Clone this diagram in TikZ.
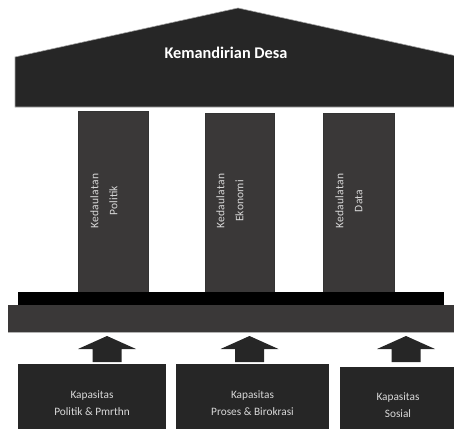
\documentclass[tikz,border=0pt]{standalone}
\usepackage{fontspec}
\setmainfont{Carlito}
\definecolor{roofc}{HTML}{262626}
\definecolor{pillc}{HTML}{3A3838}
\definecolor{txtc}{HTML}{D9D9D9}
\begin{document}
\begin{tikzpicture}[x=1pt,y=-1pt,
  roof/.style={fill=roofc,draw=gray!70,line width=0.6pt},
  pillar/.style={fill=pillc,draw=black!80,line width=0.5pt},
  pilltext/.style={text=txtc,font=\addfontfeatures{LetterSpace=2}\fontsize{11.5}{19}\selectfont,rotate=90,align=center},
  capbox/.style={fill=roofc,draw=none},
  captext/.style={text=txtc,font=\fontsize{11.3}{17}\selectfont,align=center},
  blockarrow/.style={fill=roofc,draw=none}]
\useasboundingbox (0,0) rectangle (454,428);
\begin{scope}
\clip (0,0) rectangle (454,428);
% roof
\draw[roof] (15,107) -- (15,57) -- (238,8) -- (461,57) -- (461,107) -- cycle;
\node[text=white,font=\fontsize{16.3}{18}\selectfont\bfseries] (title) at (226,53) {Kemandirian Desa};
% pillars
\draw[pillar] (78,111) rectangle (148,292);
\draw[pillar] (205,113) rectangle (274,292);
\draw[pillar] (323,113) rectangle (394,292);
\node[pilltext] (p1) at (104,201) {Kedaulatan\\Politik};
\node[pilltext] (p2) at (230,201) {Kedaulatan\\Ekonomi};
\node[pilltext] (p3) at (349,201) {Kedaulatan\\Data};
% black bar & base
\fill[black] (18,292) rectangle (444,305);
\fill[pillc] (8,305) rectangle (461,332);
\draw[gray!60,line width=0.5pt] (8,332) -- (461,332);
% arrows
\foreach \c/\n in {107/a1,249.5/a2,406/a3}{
  \fill[roofc] (\c-29,349) -- (\c,336) -- (\c+29,349) -- (\c+14.5,349) -- (\c+14.5,362) -- (\c-14.5,362) -- (\c-14.5,349) -- cycle;
}
% boxes
\fill[roofc] (18,364) rectangle (166,430);
\fill[roofc] (176,364) rectangle (329,430);
\fill[roofc] (340,367) rectangle (460,430);
\node[captext] (b1) at (92,403.5) {Kapasitas\\Politik \& Pmrthn};
\node[captext] (b2) at (252.5,403.5) {Kapasitas\\Proses \& Birokrasi};
\node[captext] (b3) at (398,405) {Kapasitas\\Sosial};
\end{scope}
\end{tikzpicture}
\end{document}
